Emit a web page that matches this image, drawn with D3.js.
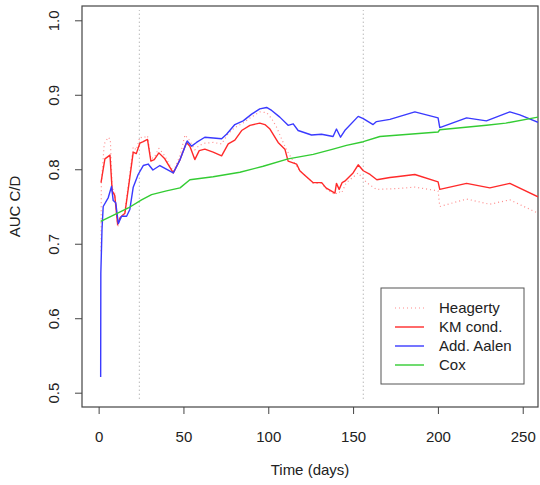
<!DOCTYPE html>
<html>
<head>
<meta charset="utf-8">
<script src="https://cdn.jsdelivr.net/npm/d3@7"></script>
<style>
	body { margin: 0; background: #fff; }
	text { font-family: 'Liberation Sans', Arial, sans-serif; }
</style>
</head>
<body>
<script>
// Values (time in days, AUC C/D)
const heagerty = [
	[1.4, 0.69], [1.6, 0.78], [3.3, 0.834], [5.7, 0.843], [6.9, 0.84], [8, 0.775], [9.5, 0.768],
	[11.2, 0.722], [12.6, 0.733], [15.5, 0.743], [18.4, 0.795], [20.4, 0.83], [22.2, 0.826],
	[24.3, 0.843], [26.3, 0.842], [28.8, 0.845], [30.8, 0.814], [32.8, 0.816], [35.5, 0.828],
	[39, 0.818], [44, 0.797], [48, 0.818], [50.9, 0.846], [53.8, 0.838], [56.7, 0.826],
	[59.3, 0.832], [62.6, 0.835], [67.5, 0.836], [72.5, 0.834], [76.4, 0.848], [80.3, 0.856],
	[85, 0.862], [90, 0.87], [95, 0.877], [99, 0.876], [102, 0.868], [105, 0.856], [108, 0.84],
	[111, 0.825], [114.7, 0.811], [118.6, 0.798], [124.5, 0.786], [126.5, 0.781], [131.5, 0.781],
	[134, 0.774], [139.3, 0.766], [141.5, 0.77], [143.2, 0.768], [146, 0.782], [153, 0.795],
	[158, 0.782], [163.8, 0.773], [175.6, 0.774], [186.4, 0.776], [200.1, 0.771], [201.1, 0.75],
	[216.9, 0.76], [230.6, 0.753], [242.4, 0.759], [259, 0.741],
]
const kmCond = [
	[1.4, 0.782], [3.7, 0.814], [6.7, 0.819], [8, 0.771], [9.5, 0.765], [11.2, 0.726],
	[12.6, 0.735], [15.5, 0.741], [18.4, 0.789], [20.4, 0.823], [22.2, 0.821], [24.3, 0.835],
	[26.3, 0.837], [28.8, 0.84], [30.8, 0.811], [32.8, 0.813], [35.5, 0.822], [39, 0.814],
	[44, 0.795], [48, 0.813], [51.8, 0.836], [53.8, 0.831], [56.7, 0.813], [59.3, 0.825],
	[62.6, 0.827], [67.5, 0.823], [72.5, 0.818], [76.4, 0.834], [80.3, 0.839], [84.3, 0.852],
	[89.2, 0.859], [95, 0.862], [98, 0.86], [101, 0.854], [105.8, 0.836], [109.8, 0.827],
	[111.7, 0.811], [116.7, 0.807], [118.6, 0.798], [121, 0.793], [124.5, 0.786], [126.5, 0.782],
	[131.5, 0.782], [134, 0.775], [139.3, 0.768], [140.2, 0.781], [141.8, 0.773], [143.5, 0.782],
	[145.1, 0.784], [150, 0.795], [153, 0.806], [156, 0.798], [160, 0.793], [164, 0.786],
	[171.7, 0.789], [175.6, 0.79], [186.4, 0.793], [200.1, 0.783], [201.1, 0.773], [216.9, 0.781],
	[230.6, 0.775], [242.4, 0.781], [259, 0.763],
]
const addAalen = [
	[1.2, 0.521], [1.3, 0.66], [2, 0.72], [2.7, 0.75], [5.7, 0.762], [7.6, 0.777], [8.6, 0.758],
	[10.1, 0.755], [11.6, 0.727], [13.5, 0.737], [16.5, 0.737], [18.4, 0.746], [20.4, 0.776],
	[23.3, 0.793], [26.3, 0.805], [29.2, 0.807], [32, 0.799], [36.1, 0.805], [44, 0.795],
	[48, 0.813], [52.2, 0.838], [54.8, 0.831], [57.7, 0.836], [62.6, 0.843], [72.5, 0.841],
	[75.4, 0.847], [80.3, 0.86], [85.2, 0.865], [90.2, 0.874], [95, 0.881], [99, 0.883],
	[102, 0.879], [106.8, 0.87], [111.7, 0.859], [114.7, 0.861], [117.6, 0.852], [125.5, 0.846],
	[131.4, 0.847], [138.2, 0.844], [140.2, 0.854], [142.6, 0.843], [145.1, 0.852], [153, 0.871],
	[156, 0.868], [161.8, 0.86], [163.8, 0.864], [171.7, 0.867], [186.4, 0.877], [200.1, 0.869],
	[201.1, 0.856], [216.9, 0.869], [228.6, 0.865], [242.4, 0.877], [248.3, 0.873], [259, 0.863],
]
const cox = [
	[1.2, 0.73], [9.4, 0.739], [17.5, 0.748], [25.3, 0.759], [31.2, 0.766], [40, 0.771],
	[48, 0.775], [53.8, 0.786], [67.5, 0.79], [83.3, 0.796], [97, 0.804], [111.7, 0.814],
	[126.5, 0.82], [138.2, 0.827], [146.1, 0.832], [156, 0.837], [165.8, 0.844], [200.1, 0.85],
	[201.1, 0.853], [228.6, 0.859], [240, 0.862], [259, 0.87],
]
const markTimes = [24, 156]
const xTicks = [0, 50, 100, 150, 200, 250]
const yTicks = [0.5, 0.6, 0.7, 0.8, 0.9, 1.0]
const legendLabels = ['Heagerty', 'KM cond.', 'Add. Aalen', 'Cox']

const width = 540
const height = 485
const plot = { left: 82, right: 538, top: 6, bottom: 407 }
const fontSize = '15px'

const svg = d3.select('body').append('svg').attr('width', width).attr('height', height)

const x = d3.scaleLinear().domain([-9.8, 259]).range([plot.left, plot.right])
const y = d3.scaleLinear().domain([0.4808, 1.0192]).range([plot.bottom, plot.top])

svg.append('clipPath').attr('id', 'clip')
	.append('rect')
	.attr('x', plot.left).attr('y', plot.top)
	.attr('width', plot.right - plot.left).attr('height', plot.bottom - plot.top)

// Axes
const yAxis = svg.append('g')
	.attr('transform', `translate(${plot.left},0)`)
	.call(d3.axisLeft(y).tickValues(yTicks).tickFormat(d3.format('.1f')).tickSize(7).tickSizeOuter(0))
yAxis.select('.domain').remove()
yAxis.selectAll('text')
	.attr('x', 0).attr('dy', '0.35em')
	.attr('transform', 'translate(-28,0) rotate(-90)')
	.attr('text-anchor', 'middle')

const xAxis = svg.append('g')
	.attr('transform', `translate(0,${plot.bottom})`)
	.call(d3.axisBottom(x).tickValues(xTicks).tickSize(7).tickPadding(17).tickSizeOuter(0))
xAxis.select('.domain').remove()

svg.selectAll('.tick line').attr('stroke', '#444')
svg.selectAll('.tick text').attr('fill', '#222').style('font-size', fontSize)

// Plot box
svg.append('rect')
	.attr('x', plot.left).attr('y', plot.top)
	.attr('width', plot.right - plot.left).attr('height', plot.bottom - plot.top)
	.attr('fill', 'none').attr('stroke', '#444').attr('stroke-width', 1.2)

// Axis titles
svg.append('text')
	.attr('x', (plot.left + plot.right) / 2).attr('y', 470)
	.attr('dy', '0.35em').attr('text-anchor', 'middle')
	.style('font-size', fontSize).attr('fill', '#222')
	.text('Time (days)')
svg.append('text')
	.attr('transform', `translate(15,${(plot.top + plot.bottom) / 2}) rotate(-90)`)
	.attr('dy', '0.35em').attr('text-anchor', 'middle')
	.style('font-size', fontSize).attr('fill', '#222')
	.text('AUC C/D')

const area = svg.append('g').attr('clip-path', 'url(#clip)')

// Vertical reference lines
area.selectAll('.mark')
	.data(markTimes)
	.enter()
	.append('line')
	.attr('x1', d => x(d)).attr('x2', d => x(d))
	.attr('y1', y(0.5) + 6).attr('y2', plot.top + 4)
	.attr('stroke', '#999').attr('stroke-width', 1)
	.attr('stroke-dasharray', '1,3')

const line = d3.line().x(d => x(d[0])).y(d => y(d[1]))

const series = [
	{ data: heagerty, color: '#ff8c8c', width: 1.2, dash: '1,3' },
	{ data: kmCond, color: '#ff2a2a', width: 1.4, dash: null },
	{ data: addAalen, color: '#3a3aff', width: 1.4, dash: null },
	{ data: cox, color: '#33cc33', width: 1.4, dash: null },
]

area.selectAll('.series')
	.data(series)
	.enter()
	.append('path')
	.attr('d', d => line(d.data))
	.attr('fill', 'none')
	.attr('stroke', d => d.color)
	.attr('stroke-width', d => d.width)
	.attr('stroke-dasharray', d => d.dash)
	.attr('stroke-linejoin', 'round')

// Legend
const legend = svg.append('g')
legend.append('rect')
	.attr('x', 381).attr('y', 288).attr('width', 143).attr('height', 96)
	.attr('fill', '#fff').attr('stroke', '#555').attr('stroke-width', 1)

const entry = legend.selectAll('.entry')
	.data(series)
	.enter()
	.append('g')
	.attr('transform', (d, i) => `translate(0,${308 + i * 19})`)
entry.append('line')
	.attr('x1', 395).attr('x2', 424)
	.attr('stroke', d => d.color)
	.attr('stroke-width', d => d.width)
	.attr('stroke-dasharray', d => d.dash)
entry.append('text')
	.attr('x', 439).attr('dy', '0.35em')
	.style('font-size', fontSize).attr('fill', '#222')
	.text((d, i) => legendLabels[i])
</script>
</body>
</html>
